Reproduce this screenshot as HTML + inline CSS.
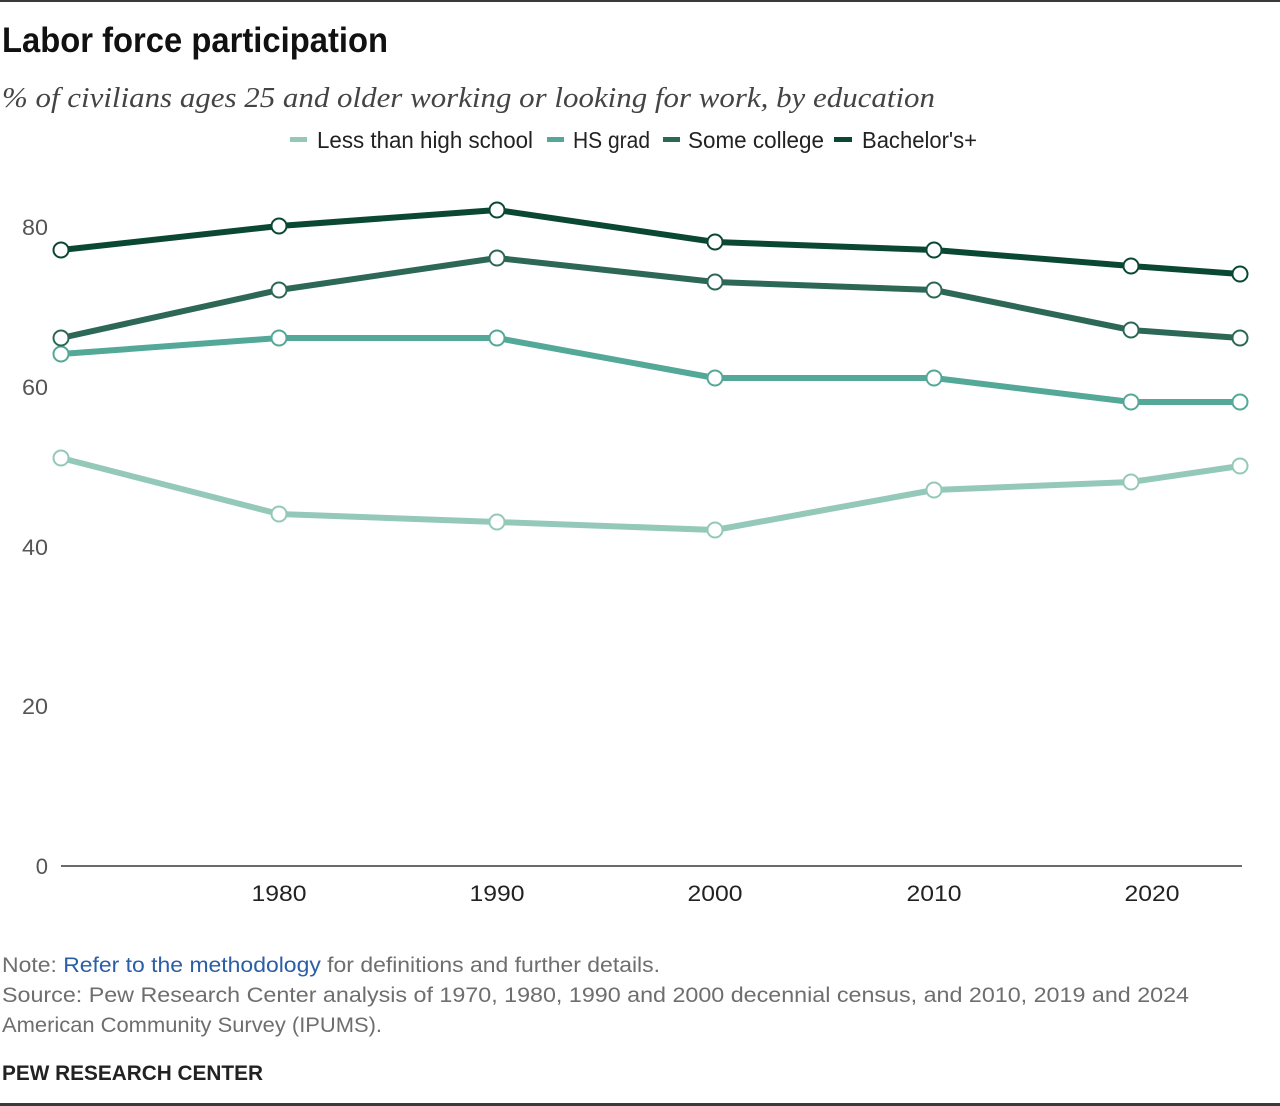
<!DOCTYPE html>
<html>
<head>
<meta charset="utf-8">
<style>
  html,body{margin:0;padding:0;background:#fff;}
  svg{display:block;}
  .sans{font-family:"Liberation Sans",Arial,sans-serif;}
  .serif{font-family:"Liberation Serif","Times New Roman",serif;}
</style>
</head>
<body>
<svg width="1280" height="1106" viewBox="0 0 1280 1106" xmlns="http://www.w3.org/2000/svg">
  <rect x="0" y="0" width="1280" height="1106" fill="#fff"/>
  <!-- top and bottom rules -->
  <rect x="0" y="0" width="1280" height="2" fill="#3a3a3a"/>
  <rect x="0" y="1103" width="1280" height="3" fill="#3a3a3a"/>

  <!-- title -->
  <text class="sans" x="2" y="52" font-size="35" font-weight="bold" fill="#111" textLength="386" lengthAdjust="spacingAndGlyphs">Labor force participation</text>
  <!-- subtitle -->
  <text class="serif" x="2" y="107" font-size="28" font-style="italic" fill="#444" textLength="933" lengthAdjust="spacingAndGlyphs">% of civilians ages 25 and older working or looking for work, by education</text>

  <!-- legend -->
  <rect x="290" y="137" width="17" height="5" fill="#94c9b9"/>
  <text class="sans" x="317" y="148" font-size="23" fill="#222" textLength="216" lengthAdjust="spacingAndGlyphs">Less than high school</text>
  <rect x="547" y="137" width="17" height="5" fill="#53a897"/>
  <text class="sans" x="573" y="148" font-size="23" fill="#222" textLength="77" lengthAdjust="spacingAndGlyphs">HS grad</text>
  <rect x="663" y="137" width="17" height="5" fill="#2d6857"/>
  <text class="sans" x="688" y="148" font-size="23" fill="#222" textLength="136" lengthAdjust="spacingAndGlyphs">Some college</text>
  <rect x="834" y="137" width="18" height="5" fill="#0a4834"/>
  <text class="sans" x="862" y="148" font-size="23" fill="#222" textLength="115" lengthAdjust="spacingAndGlyphs">Bachelor's+</text>

  <!-- y axis labels -->
  <g class="sans" font-size="22" fill="#555" text-anchor="end">
    <text x="48" y="235" textLength="26" lengthAdjust="spacingAndGlyphs">80</text>
    <text x="48" y="395" textLength="26" lengthAdjust="spacingAndGlyphs">60</text>
    <text x="48" y="555" textLength="26" lengthAdjust="spacingAndGlyphs">40</text>
    <text x="48" y="714" textLength="26" lengthAdjust="spacingAndGlyphs">20</text>
    <text x="48" y="874">0</text>
  </g>

  <!-- x axis -->
  <rect x="61" y="865" width="1181" height="2" fill="#6b6b6b"/>
  <g class="sans" font-size="22" fill="#222" text-anchor="middle">
    <text x="279" y="901" textLength="55" lengthAdjust="spacingAndGlyphs">1980</text>
    <text x="497" y="901" textLength="55" lengthAdjust="spacingAndGlyphs">1990</text>
    <text x="715" y="901" textLength="55" lengthAdjust="spacingAndGlyphs">2000</text>
    <text x="934" y="901" textLength="55" lengthAdjust="spacingAndGlyphs">2010</text>
    <text x="1152" y="901" textLength="55" lengthAdjust="spacingAndGlyphs">2020</text>
  </g>

  <!-- Less than HS -->
  <polyline fill="none" stroke="#94c9b9" stroke-width="6" stroke-linejoin="round"
    points="61,458 279,514 497,522 715,530 934,490 1131,482 1240,466"/>
  <g fill="#fff" stroke="#94c9b9" stroke-width="2">
    <circle cx="61" cy="458" r="7.5"/><circle cx="279" cy="514" r="7.5"/><circle cx="497" cy="522" r="7.5"/>
    <circle cx="715" cy="530" r="7.5"/><circle cx="934" cy="490" r="7.5"/><circle cx="1131" cy="482" r="7.5"/>
    <circle cx="1240" cy="466" r="7.5"/>
  </g>

  <!-- HS grad -->
  <polyline fill="none" stroke="#53a897" stroke-width="6" stroke-linejoin="round"
    points="61,354 279,338 497,338 715,378 934,378 1131,402 1240,402"/>
  <g fill="#fff" stroke="#53a897" stroke-width="2">
    <circle cx="61" cy="354" r="7.5"/><circle cx="279" cy="338" r="7.5"/><circle cx="497" cy="338" r="7.5"/>
    <circle cx="715" cy="378" r="7.5"/><circle cx="934" cy="378" r="7.5"/><circle cx="1131" cy="402" r="7.5"/>
    <circle cx="1240" cy="402" r="7.5"/>
  </g>

  <!-- Some college -->
  <polyline fill="none" stroke="#2d6857" stroke-width="6" stroke-linejoin="round"
    points="61,338 279,290 497,258 715,282 934,290 1131,330 1240,338"/>
  <g fill="#fff" stroke="#2d6857" stroke-width="2">
    <circle cx="61" cy="338" r="7.5"/><circle cx="279" cy="290" r="7.5"/><circle cx="497" cy="258" r="7.5"/>
    <circle cx="715" cy="282" r="7.5"/><circle cx="934" cy="290" r="7.5"/><circle cx="1131" cy="330" r="7.5"/>
    <circle cx="1240" cy="338" r="7.5"/>
  </g>

  <!-- Bachelor's+ -->
  <polyline fill="none" stroke="#0a4834" stroke-width="6" stroke-linejoin="round"
    points="61,250 279,226 497,210 715,242 934,250 1131,266 1240,274"/>
  <g fill="#fff" stroke="#0a4834" stroke-width="2">
    <circle cx="61" cy="250" r="7.5"/><circle cx="279" cy="226" r="7.5"/><circle cx="497" cy="210" r="7.5"/>
    <circle cx="715" cy="242" r="7.5"/><circle cx="934" cy="250" r="7.5"/><circle cx="1131" cy="266" r="7.5"/>
    <circle cx="1240" cy="274" r="7.5"/>
  </g>

  <!-- notes -->
  <text class="sans" x="2" y="972" font-size="21" fill="#6e6e6e" textLength="658" lengthAdjust="spacingAndGlyphs">Note: <tspan fill="#2a5ea6">Refer to the methodology</tspan> for definitions and further details.</text>
  <text class="sans" x="2" y="1002" font-size="21" fill="#6e6e6e" textLength="1187" lengthAdjust="spacingAndGlyphs">Source: Pew Research Center analysis of 1970, 1980, 1990 and 2000 decennial census, and 2010, 2019 and 2024</text>
  <text class="sans" x="2" y="1032" font-size="21" fill="#6e6e6e" textLength="380" lengthAdjust="spacingAndGlyphs">American Community Survey (IPUMS).</text>
  <text class="sans" x="2" y="1080" font-size="21" font-weight="bold" fill="#222" textLength="261" lengthAdjust="spacingAndGlyphs">PEW RESEARCH CENTER</text>
</svg>
</body>
</html>
